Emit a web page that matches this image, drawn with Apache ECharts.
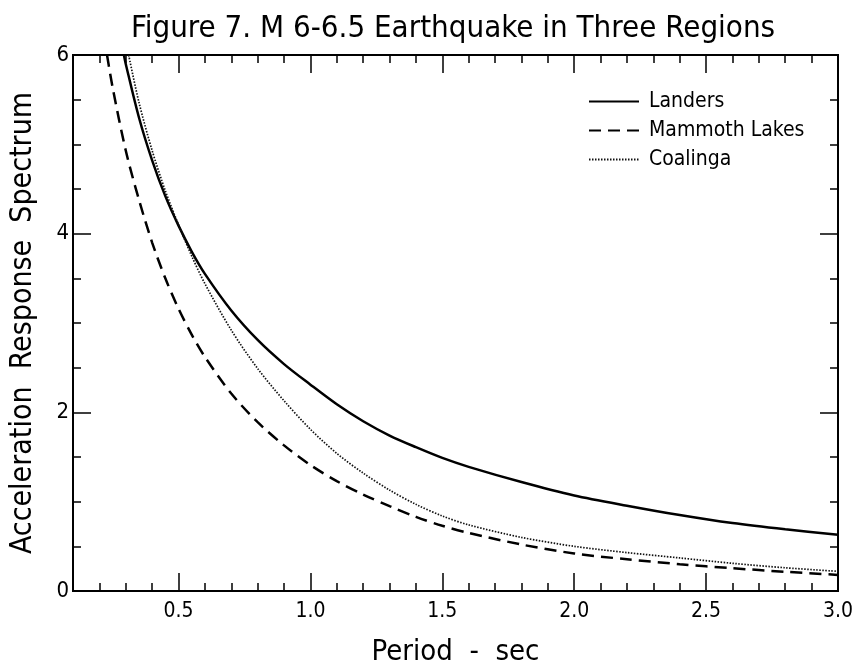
<!DOCTYPE html>
<html>
<head>
<meta charset="utf-8">
<script src="https://cdn.jsdelivr.net/npm/echarts@6/dist/echarts.min.js"></script>
<style>
html, body { margin: 0; padding: 0; background: #fff; }
#chart { width: 857px; height: 672px; }
</style>
</head>
<body>
<div id="chart"></div>
<script>
// values (period in sec, spectrum value)
var landersPeriod = [0.293, 0.3, 0.35, 0.4, 0.45, 0.5, 0.55, 0.6, 0.7, 0.8, 0.9, 1.0, 1.1, 1.2, 1.3, 1.4, 1.5, 1.6, 1.8, 2.0, 2.2, 2.4, 2.6, 2.8, 3.0];
var landersValue  = [6.0, 5.9, 5.3, 4.82, 4.42, 4.09, 3.8, 3.55, 3.14, 2.81, 2.54, 2.31, 2.09, 1.9, 1.74, 1.61, 1.49, 1.39, 1.22, 1.07, 0.955, 0.85, 0.76, 0.69, 0.63];

var mammothPeriod = [0.229, 0.25, 0.3, 0.35, 0.4, 0.45, 0.5, 0.55, 0.6, 0.7, 0.8, 0.9, 1.0, 1.1, 1.2, 1.3, 1.4, 1.5, 1.6, 1.8, 2.0, 2.2, 2.4, 2.6, 2.8, 3.0];
var mammothValue  = [6.0, 5.64, 4.93, 4.38, 3.9, 3.5, 3.16, 2.87, 2.62, 2.21, 1.89, 1.63, 1.41, 1.23, 1.08, 0.95, 0.83, 0.73, 0.65, 0.52, 0.42, 0.355, 0.3, 0.255, 0.215, 0.18];

var coalingaPeriod = [0.311, 0.35, 0.4, 0.45, 0.5, 0.55, 0.6, 0.7, 0.8, 0.9, 1.0, 1.1, 1.2, 1.3, 1.4, 1.5, 1.6, 1.8, 2.0, 2.2, 2.4, 2.6, 2.8, 3.0];
var coalingaValue  = [6.0, 5.47, 4.93, 4.48, 4.1, 3.75, 3.44, 2.92, 2.49, 2.13, 1.81, 1.54, 1.32, 1.13, 0.97, 0.84, 0.74, 0.6, 0.5, 0.43, 0.37, 0.31, 0.26, 0.22];

var xMajorTicks = [0.5, 1.0, 1.5, 2.0, 2.5, 3.0];
var xMinorTicks = [0.2, 0.3, 0.4, 0.5, 0.6, 0.7, 0.8, 0.9, 1.0, 1.1, 1.2, 1.3, 1.4, 1.5, 1.6, 1.7, 1.8, 1.9, 2.0, 2.1, 2.2, 2.3, 2.4, 2.5, 2.6, 2.7, 2.8, 2.9];
var yMajorTicks = [0, 2, 4, 6];
var yMinorTicks = [0.5, 1, 1.5, 2, 2.5, 3, 3.5, 4, 4.5, 5, 5.5];

var FONT = '"DejaVu Sans Condensed", "Liberation Sans Narrow", "DejaVu Sans", sans-serif';

function pairs(xs, ys) {
    var out = [];
    for (var i = 0; i < xs.length; i++) out.push([xs[i], ys[i]]);
    return out;
}

function xAxisPart(pos, ticks, len, labels) {
    return {
        type: 'value', min: 0.1, max: 3.0, position: pos,
        axisLine: { show: true, onZero: false, lineStyle: { color: '#000', width: 2 } },
        axisTick: { show: true, inside: true, length: len, customValues: ticks, lineStyle: { color: '#000', width: 1.5 } },
        axisLabel: labels ? {
            customValues: xMajorTicks, color: '#000', fontSize: 21, fontFamily: FONT, margin: 10,
            formatter: function (v) { return v.toFixed(1); }
        } : { show: false },
        splitLine: { show: false }
    };
}

function yAxisPart(pos, ticks, len, labels) {
    return {
        type: 'value', min: 0, max: 6, position: pos,
        axisLine: { show: true, onZero: false, lineStyle: { color: '#000', width: 2 } },
        axisTick: { show: true, inside: true, length: len, customValues: ticks, lineStyle: { color: '#000', width: 1.5 } },
        axisLabel: labels ? {
            customValues: yMajorTicks, color: '#000', fontSize: 22, fontFamily: FONT, margin: 4
        } : { show: false },
        splitLine: { show: false }
    };
}

var chart = echarts.init(document.getElementById('chart'));

var xBottom = xAxisPart('bottom', xMinorTicks, 8, true);
xBottom.name = 'Period  -  sec';
xBottom.nameLocation = 'middle';
xBottom.nameGap = 47;
xBottom.nameTextStyle = { color: '#000', fontSize: 29, fontFamily: FONT };

var yLeft = yAxisPart('left', yMinorTicks, 8, true);
yLeft.name = 'Acceleration  Response  Spectrum';
yLeft.nameLocation = 'middle';
yLeft.nameGap = 35;
yLeft.nameTextStyle = { color: '#000', fontSize: 30, fontFamily: FONT };

var option = {
    backgroundColor: '#fff',
    animation: false,
    graphic: [{
        type: 'text', x: 453, y: 13,
        style: {
            text: 'Figure 7. M 6-6.5 Earthquake in Three Regions',
            fill: '#000', fontSize: 31, fontFamily: FONT, textAlign: 'center'
        }
    }],
    grid: { left: 71, right: 19, top: 55, bottom: 77, containLabel: false },
    legend: {
        orient: 'vertical', left: 583, top: 86,
        itemWidth: 50, itemHeight: 14, itemGap: 8,
        itemStyle: { color: 'rgba(0,0,0,0)', borderWidth: 0 },
        textStyle: { color: '#000', fontSize: 21, fontFamily: FONT, padding: [0, 0, 0, 5] },
        data: ['Landers', 'Mammoth Lakes', 'Coalinga']
    },
    xAxis: [
        xBottom,
        xAxisPart('bottom', xMajorTicks, 18, false),
        xAxisPart('top', xMinorTicks, 8, false),
        xAxisPart('top', xMajorTicks, 18, false)
    ],
    yAxis: [
        yLeft,
        yAxisPart('left', yMajorTicks, 18, false),
        yAxisPart('right', yMinorTicks, 8, false),
        yAxisPart('right', yMajorTicks, 18, false)
    ],
    series: [
        {
            name: 'Landers', type: 'line', symbol: 'none', smooth: 0.3,
            lineStyle: { color: '#000', width: 2.5, type: 'solid' },
            itemStyle: { color: '#000' },
            data: pairs(landersPeriod, landersValue)
        },
        {
            name: 'Mammoth Lakes', type: 'line', symbol: 'none', smooth: 0.3,
            lineStyle: { color: '#000', width: 2.5, type: [12, 7] },
            itemStyle: { color: '#000' },
            data: pairs(mammothPeriod, mammothValue)
        },
        {
            name: 'Coalinga', type: 'line', symbol: 'none', smooth: 0.3,
            lineStyle: { color: '#111', width: 1.7, type: [1.5, 1.5] },
            itemStyle: { color: '#111' },
            data: pairs(coalingaPeriod, coalingaValue)
        }
    ]
};

chart.setOption(option);

window.addEventListener('resize', function () {
    chart.resize();
});
</script>
</body>
</html>
